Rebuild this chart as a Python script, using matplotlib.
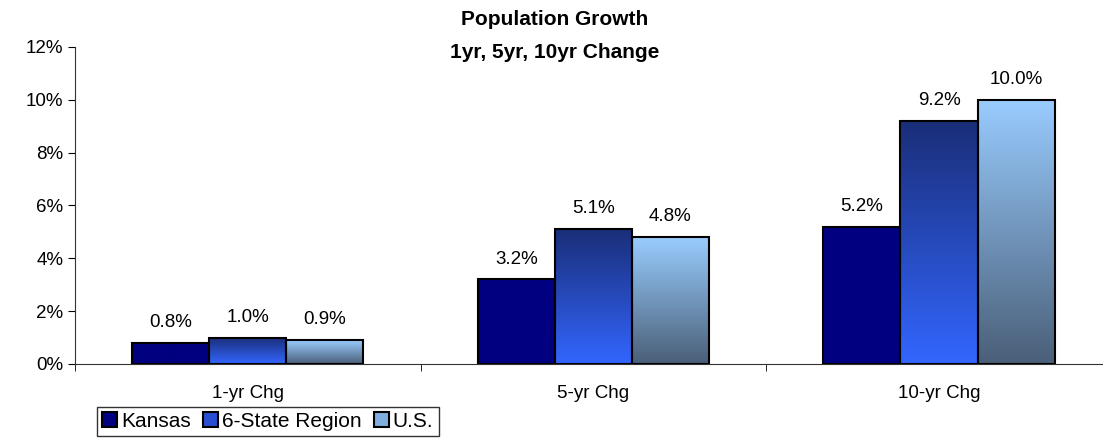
import numpy as np
import matplotlib.pyplot as plt
from matplotlib.colors import LinearSegmentedColormap
from matplotlib.patches import Patch
from matplotlib.ticker import FuncFormatter

plt.rcParams['font.family'] = ['Liberation Sans', 'DejaVu Sans']

categories = ['1-yr Chg', '5-yr Chg', '10-yr Chg']
series = ['Kansas', '6-State Region', 'U.S.']
kansas = [0.8, 3.2, 5.2]
region = [1.0, 5.1, 9.2]
us = [0.9, 4.8, 10.0]

# bottom colour, top colour for each series
grads = [('#000080', '#000080'), ('#3366ff', '#1a2e78'), ('#4a5f78', '#99ccff')]

fig = plt.figure(figsize=(11.03, 4.38), dpi=100)
ax = fig.add_axes([0.068, 0.169, 0.94, 0.724])

x = np.arange(len(categories))
w = 0.223
for i, (vals, (c0, c1)) in enumerate(zip([kansas, region, us], grads)):
    cmap = LinearSegmentedColormap.from_list('g%d' % i, [c0, c1])
    bars = ax.bar(x + (i - 1) * w, vals, w, facecolor='none', edgecolor='black', linewidth=1.5, zorder=3)
    for b, v in zip(bars, vals):
        grad = np.linspace(0, 1, 256).reshape(-1, 1)
        ax.imshow(grad, cmap=cmap, origin='lower', aspect='auto', zorder=2,
                  extent=[b.get_x(), b.get_x() + b.get_width(), 0, v])
        ax.text(b.get_x() + b.get_width() / 2, v + 0.45, '%.1f%%' % v,
                ha='center', va='bottom', fontsize=13.5)

ax.set_xlim(-0.5, 2.5)
ax.set_ylim(0, 12)
ax.set_yticks(range(0, 13, 2))
ax.yaxis.set_major_formatter(FuncFormatter(lambda v, p: '%d%%' % v))
ax.set_xticks(x)
ax.set_xticklabels(categories)
ax.set_xticks([-0.5, 0.5, 1.5, 2.5], minor=True)
ax.tick_params(axis='x', which='major', length=0, pad=15, labelsize=13.5)
ax.tick_params(axis='x', which='minor', length=5, direction='out')
ax.tick_params(axis='y', length=5, direction='out', labelsize=13.5)
for s in ['top', 'right']:
    ax.spines[s].set_visible(False)
for s in ['left', 'bottom']:
    ax.spines[s].set_color('#333333')

fig.text(0.503, 0.956, 'Population Growth', ha='center', va='center', fontsize=15, fontweight='bold')
fig.text(0.503, 0.880, '1yr, 5yr, 10yr Change', ha='center', va='center', fontsize=15, fontweight='bold')

handles = [Patch(facecolor=c, edgecolor='black', linewidth=1.5) for c in ['#000080', '#2a4ed0', '#80aee0']]
leg = fig.legend(handles, series, loc='lower left', bbox_to_anchor=(0.086, 0.0), ncol=3,
                 fontsize=15, frameon=True, fancybox=False, edgecolor='black',
                 handlelength=0.7, handleheight=0.7, handletextpad=0.2, columnspacing=0.6,
                 borderpad=0.25, borderaxespad=0.1)
leg.get_frame().set_linewidth(1.0)

fig.savefig('out.png', dpi=100)
